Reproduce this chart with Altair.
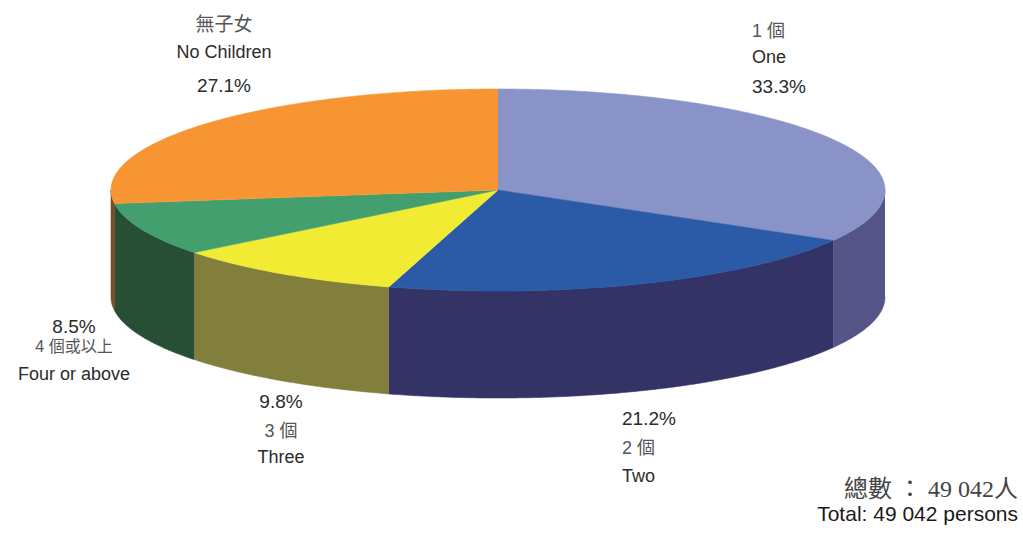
import math
import altair as alt
import pandas as pd

# ---------------- data ----------------
categories_zh = ["1 個", "2 個", "3 個", "4 個或以上", "無子女"]
categories_en = ["One", "Two", "Three", "Four or above", "No Children"]
shares = [33.3, 21.2, 9.8, 8.5, 27.1]
total_zh = "總數 ： 49 042人"
total_en = "Total: 49 042 persons"

# ---------------- styles ----------------
top_colors = ["#8A93C8", "#2B5AA6", "#F2EB34", "#43A06E", "#F69532"]
side_colors = ["#545586", "#333366", "#827F3C", "#274F35", "#7C4A24"]

W, H = 1023, 538
CX, CY, RX, RY, DEPTH = 498, 190, 387, 101, 107

# label layout: x anchor, align, baselines for (percent, chinese, english), chinese size
label_layout = [
    (752, "left",   (93, 37, 63), 18),     # One
    (622, "left",   (425, 454, 482), 18),  # Two
    (281, "center", (408, 437, 463), 18),  # Three
    (74,  "center", (333, 352, 380), 16),  # Four or above
    (224, "center", (92, 31, 58), 19),     # No Children
]


def ell(theta_deg):
    t = math.radians(theta_deg)
    return CX + RX * math.cos(t), CY - RY * math.sin(t)


rows_top, rows_side = [], []
tot = sum(shares)
cum = 0.0
for k, s in enumerate(shares):
    a1 = 90 - cum / tot * 360
    cum += s
    a2 = 90 - cum / tot * 360
    n = max(2, int(abs(a1 - a2) * 2)) + 1
    angs = [a1 + (a2 - a1) * j / (n - 1) for j in range(n)]
    pts = [(CX, CY)] + [ell(a) for a in angs]
    for i, (x, y) in enumerate(pts):
        rows_top.append(dict(pid=f"t{k}", i=i, x=x, y=y, col=top_colors[k]))
    lo, hi = max(a2, -180), min(a1, 0)
    if hi > lo:
        m = max(2, int((hi - lo) * 2)) + 1
        angs = [hi + (lo - hi) * j / (m - 1) for j in range(m)]
        upper = [ell(a) for a in angs]
        lower = [(x, y + DEPTH) for x, y in reversed(upper)]
        for i, (x, y) in enumerate(upper + lower):
            rows_side.append(dict(pid=f"s{k}", i=i, x=x, y=y, col=side_colors[k]))

xs = alt.Scale(domain=[0, W], nice=False, zero=False)
ys = alt.Scale(domain=[0, H], nice=False, zero=False, reverse=True)


def poly(df):
    return alt.Chart(df).mark_line(strokeWidth=0.6, strokeJoin="round").encode(
        x=alt.X("x:Q", scale=xs, axis=None),
        y=alt.Y("y:Q", scale=ys, axis=None),
        detail="pid:N",
        order="i:Q",
        fill=alt.Fill("col:N", scale=None),
        stroke=alt.Stroke("col:N", scale=None),
    )


sides = poly(pd.DataFrame(rows_side))
tops = poly(pd.DataFrame(rows_top))

pct_rows, zh_rows, en_rows = [], [], []
for k in range(len(shares)):
    x, align, (bp, bz, be), zs = label_layout[k]
    pct_rows.append(dict(x=x, y=bp, t=f"{shares[k]:.1f}%", a=align, s=19))
    zh_rows.append(dict(x=x, y=bz, t=categories_zh[k], a=align, s=zs))
    en_rows.append(dict(x=x, y=be, t=categories_en[k], a=align, s=18))


def text_layer(rows, align, font, color):
    df = pd.DataFrame([r for r in rows if r["a"] == align])
    return alt.Chart(df).mark_text(
        align=align, baseline="alphabetic", font=font, color=color,
    ).encode(
        x=alt.X("x:Q", scale=xs, axis=None),
        y=alt.Y("y:Q", scale=ys, axis=None),
        text="t:N",
        size=alt.Size("s:Q", scale=None, legend=None),
    )


layers = [sides, tops]
for al in ["left", "center"]:
    layers.append(text_layer(pct_rows, al, "Liberation Sans", "#2b2b2b"))
    layers.append(text_layer(zh_rows, al, "Liberation Sans, Noto Sans CJK TC", "#555555"))
    layers.append(text_layer(en_rows, al, "Liberation Sans", "#2b2b2b"))

tot_df = pd.DataFrame([dict(x=1018, y=497, t=total_zh)])
tot_en_df = pd.DataFrame([dict(x=1018, y=521, t=total_en)])
layers.append(alt.Chart(tot_df).mark_text(
    align="right", baseline="alphabetic", font="Liberation Serif, Noto Sans CJK TC",
    fontSize=24, color="#444444").encode(
    x=alt.X("x:Q", scale=xs, axis=None), y=alt.Y("y:Q", scale=ys, axis=None), text="t:N"))
layers.append(alt.Chart(tot_en_df).mark_text(
    align="right", baseline="alphabetic", font="Liberation Sans",
    fontSize=21, color="#1a1a1a").encode(
    x=alt.X("x:Q", scale=xs, axis=None), y=alt.Y("y:Q", scale=ys, axis=None), text="t:N"))

chart = alt.layer(*layers).properties(
    width=W, height=H, padding=0, autosize=alt.AutoSizeParams(type="none"),
    background="white",
).configure_view(stroke=None)

chart.save("out.html", embed_options={"renderer": "svg", "actions": False})
